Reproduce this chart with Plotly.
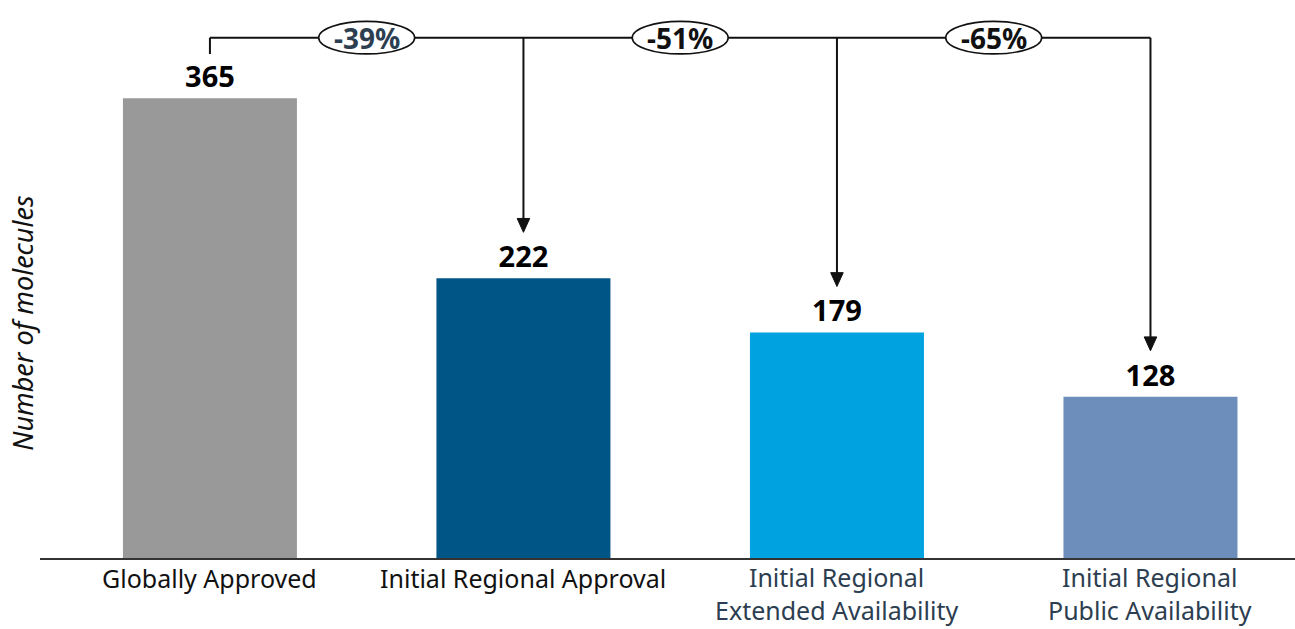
import plotly.graph_objects as go

categories = ["Globally Approved", "Initial Regional Approval",
              "Initial Regional<br>Extended Availability", "Initial Regional<br>Public Availability"]
values = [365, 222, 179, 128]
bar_colors = ["#999999", "#005587", "#00A3E0", "#6D8EBA"]
tick_colors = ["#111111", "#111111", "#2C3E50", "#2C3E50"]
pct_colors = ["#2C3E50", "#111111", "#111111"]

FONT = "Noto Sans"
xs = list(range(len(values)))
bracket_y = 413
stub_gap = 35
tip_gap = 36.5

fig = go.Figure()
fig.add_trace(go.Bar(
    x=xs, y=values, width=0.555, marker=dict(color=bar_colors, line=dict(width=0)),
    text=[f"<b>{v}</b>" for v in values], textposition="outside",
    textfont=dict(family=FONT, size=29, color="#000000"), cliponaxis=False,
    hoverinfo="skip",
))

shapes = []
lc = dict(color="#111111", width=2)
shapes.append(dict(type="line", xref="x", yref="y", x0=0, x1=0, y0=values[0] + stub_gap, y1=bracket_y, line=lc))
shapes.append(dict(type="line", xref="x", yref="y", x0=0, x1=xs[-1], y0=bracket_y, y1=bracket_y, line=lc))
annotations = []
for i in range(1, len(values)):
    tip = values[i] + tip_gap
    shapes.append(dict(type="line", xref="x", yref="y", x0=i, x1=i, y0=bracket_y, y1=tip + 10, line=lc))
    shapes.append(dict(type="path", xref="x", yref="y",
                       path=f"M {i-0.02},{tip+11} L {i+0.02},{tip+11} L {i},{tip} Z",
                       fillcolor="#111111", line=dict(color="#111111", width=1)))
for i in range(1, len(values)):
    cx = i - 0.5
    shapes.append(dict(type="circle", xref="x", yref="y", x0=cx - 0.153, x1=cx + 0.153,
                       y0=bracket_y - 12.9, y1=bracket_y + 12.9,
                       fillcolor="white", line=dict(color="#111111", width=1.6)))
    pct = round((values[i] / values[0] - 1) * 100)
    annotations.append(dict(x=cx, y=bracket_y, xref="x", yref="y", text=f"<b>{pct}%</b>",
                            showarrow=False, font=dict(family=FONT, size=28, color=pct_colors[i - 1])))

# category labels below the axis
for i, (label, col) in enumerate(zip(categories, tick_colors)):
    multi = "<br>" in label
    annotations.append(dict(x=i, y=0, xref="x", yref="paper", text=label, showarrow=False,
                            yanchor="bottom" if multi else "top",
                            yshift=-70 if multi else -2, borderpad=0,
                            font=dict(family=FONT, size=25, color=col)))

annotations.append(dict(x=-0.031, y=0.421, xref="paper", yref="paper", text="<i>Number of molecules</i>",
                        textangle=-90, showarrow=False,
                        font=dict(family=FONT, size=27, color="#111111")))

fig.update_layout(
    width=1295, height=629, margin=dict(l=40, r=0, t=0, b=71),
    plot_bgcolor="white", paper_bgcolor="white", showlegend=False,
    shapes=shapes, annotations=annotations,
    xaxis=dict(range=[-0.542, 3.461], tickvals=xs, showticklabels=False, showgrid=False,
               zeroline=False, showline=True, linecolor="#333333", linewidth=2, ticks="",
               automargin=False),
    yaxis=dict(range=[0, 442.9], visible=False, showgrid=False, zeroline=False, automargin=False),
)
fig.write_html("out.html")
